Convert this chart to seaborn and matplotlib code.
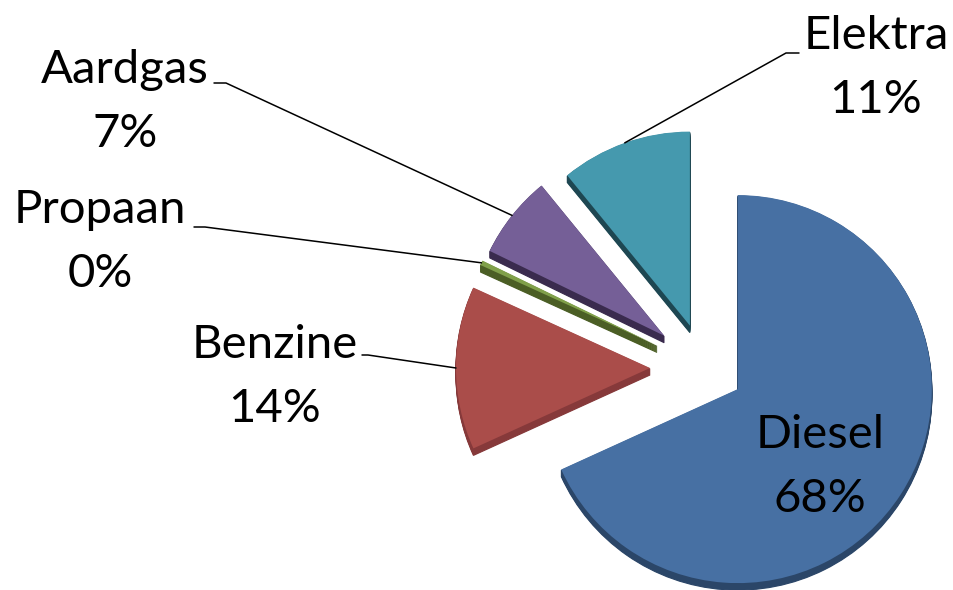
import matplotlib
matplotlib.use("Agg")
import matplotlib.pyplot as plt
import numpy as np
import seaborn as sns

# brandstofverdeling (aandeel in %)
fuels = ["Diesel", "Benzine", "Propaan", "Aardgas", "Elektra"]
shares = [68.2, 13.6, 0.4, 6.9, 10.9]
colors = ["#4770A3", "#AA4D4A", "#80A04A", "#755F97", "#4599AE"]
side_colors = ["#2B4668", "#86393A", "#4B5E25", "#3A2B4E", "#1E4752"]

sns.set_theme(style="white")
plt.rcParams["font.family"] = ["Lato", "DejaVu Sans"]

W, H = 954, 590
fig = plt.figure(figsize=(W / 100, H / 100), dpi=100)
ax = fig.add_axes([0, 0, 1, 1])

center = (705, H - 368)
radius = 194
# explode in pie is in data units (hier pixels), per stuk iets anders
explode = [39, 55, 53, 52, 45]
depth = 7

# zijkant (3D-effect): gestapelde donkere kopieen
for k in range(depth, 0, -1):
    side, _ = ax.pie(shares, colors=side_colors, explode=explode, startangle=90,
                     counterclock=False, radius=radius,
                     center=(center[0], center[1] - k), frame=True)
    for s, c in zip(side, side_colors):
        s.set_edgecolor(c)
        s.set_linewidth(0.8)

wedges, _ = ax.pie(shares, colors=colors, explode=explode, startangle=90,
                   counterclock=False, radius=radius, center=center,
                   wedgeprops=dict(linewidth=0), frame=True)

ax.set_xlim(0, W)
ax.set_ylim(0, H)
ax.set_aspect("equal")
ax.axis("off")

# label layout in pixels: tekst-centrum, knikpunt, eind van horizontaal stukje
layout = {
    "Elektra": dict(text=(876, 68), elbow=(786, 53), end=(799, 53)),
    "Aardgas": dict(text=(125, 102), elbow=(226, 83), end=(214, 83)),
    "Propaan": dict(text=(100, 242), elbow=(205, 227), end=(194, 227)),
    "Benzine": dict(text=(275, 377), elbow=(368, 355), end=(362, 355)),
    "Diesel": dict(text=(820, 467)),
}

fs = 34
for w, name, val in zip(wedges, fuels, shares):
    lay = layout[name]
    label = f"{name}\n{val:.0f}%"
    tx, ty = lay["text"]
    ax.text(tx, H - ty, label, ha="center", va="center", fontsize=fs,
            linespacing=1.65, color="black")
    if "elbow" in lay:
        mid = np.deg2rad((w.theta1 + w.theta2) / 2)
        px = w.center[0] + w.r * np.cos(mid)
        py = w.center[1] + w.r * np.sin(mid)
        ex, ey = lay["elbow"]
        hx, hy = lay["end"]
        ax.plot([px, ex, hx], [py, H - ey, H - hy], color="black", lw=1.1)

fig.savefig("out.png", dpi=100)
